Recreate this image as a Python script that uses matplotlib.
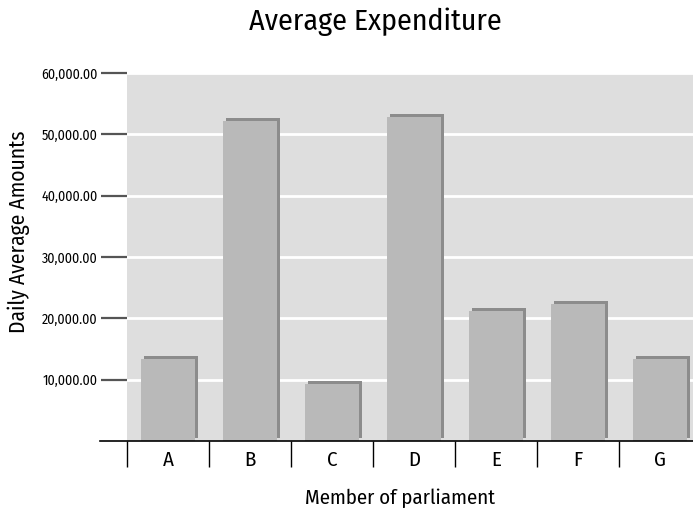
import matplotlib
matplotlib.use('Agg')
import matplotlib.pyplot as plt
from matplotlib.lines import Line2D
from matplotlib.transforms import offset_copy
import numpy as np

members = ['A', 'B', 'C', 'D', 'E', 'F', 'G']
amounts = [13400, 52200, 9300, 52850, 21200, 22350, 13400]
yticks = [10000, 20000, 30000, 40000, 50000, 60000]
ytick_labels = ['10,000.00', '20,000.00', '30,000.00', '40,000.00', '50,000.00', '60,000.00']

plt.rcParams['font.family'] = ['Fira Sans Condensed', 'DejaVu Sans']

W, H = 693, 516
fig = plt.figure(figsize=(W / 100, H / 100), dpi=100)
# plot area runs past the right edge (last column is cut off in the original)
ax = fig.add_axes([127 / W, (H - 441) / H, 574 / W, 368 / H])
ax.set_facecolor('#dedede')

x = np.arange(len(members))
ax.set_xlim(-0.5, len(members) - 0.5)
ax.set_ylim(0, 60000)

# white grid
ax.set_yticks(yticks)
ax.set_yticklabels(ytick_labels, fontsize=10)
ax.grid(axis='y', color='white', linewidth=2)
ax.set_axisbelow(True)

# shadow bars (shifted right/up) then front bars
shadow = ax.bar(x, amounts, width=0.67, color='#8c8c8c', zorder=2)
for p in shadow:
    p.set_transform(offset_copy(ax.transData, fig=fig, x=3, y=3, units='dots'))
ax.bar(x, amounts, width=0.67, color='#b9b9b9', zorder=3)

for s in ax.spines.values():
    s.set_visible(False)

ax.tick_params(axis='y', length=19, width=1.6, color='#555555', pad=2)
ax.set_xticks(x)
ax.set_xticklabels(members, fontsize=15)
ax.set_xticks(np.arange(len(members) + 1) - 0.5, minor=True)
ax.tick_params(axis='x', which='major', length=0, pad=7)
ax.tick_params(axis='x', which='minor', length=19, width=1, color='black')

# baseline extends under the y ticks
fig.add_artist(Line2D([100 / W, 1], [(H - 440.5) / H] * 2, color='black', linewidth=1.2))

fig.text(375 / W, 1 - 22 / H, 'Average Expenditure', fontsize=21.5, ha='center', va='center')
fig.text(400 / W, 1 - 498 / H, 'Member of parliament', fontsize=15, ha='center', va='center')
fig.text(19 / W, 1 - 232 / H, 'Daily Average Amounts', fontsize=15.5, ha='center', va='center',
         rotation=90)

fig.savefig('out.png', dpi=100)
